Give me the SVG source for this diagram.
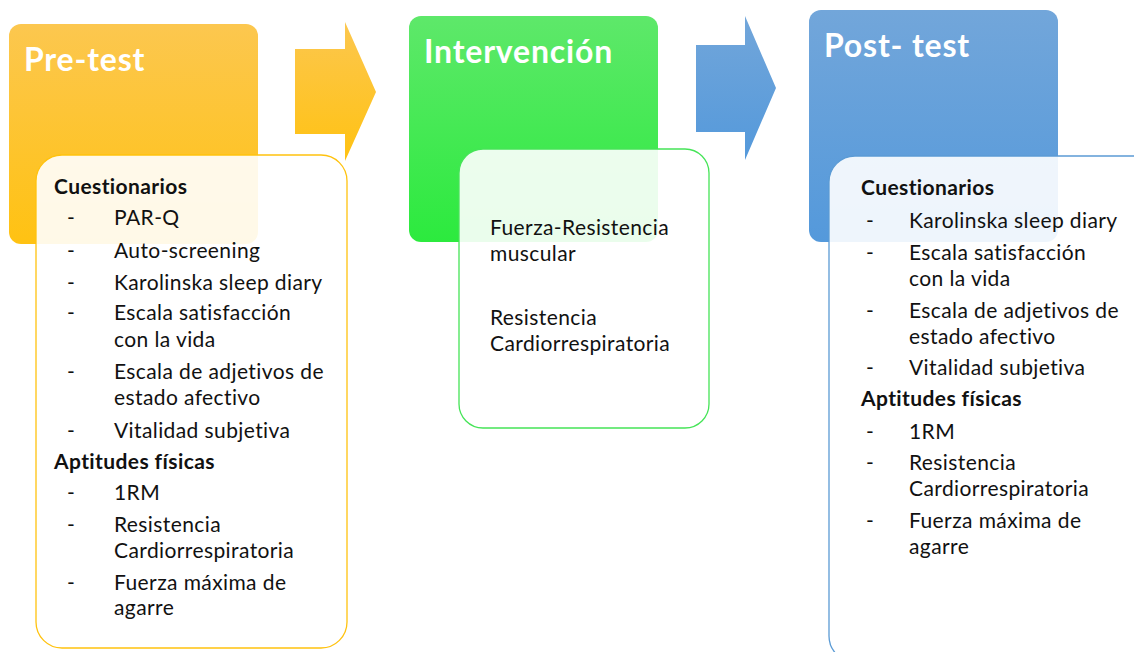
<svg xmlns="http://www.w3.org/2000/svg" width="1134" height="652" viewBox="0 0 1134 652">
<defs>
<linearGradient id="gO" x1="0" y1="0" x2="0" y2="1"><stop offset="0" stop-color="#FCC74F"/><stop offset="1" stop-color="#FFC212"/></linearGradient>
<linearGradient id="gG" x1="0" y1="0" x2="0" y2="1"><stop offset="0" stop-color="#5EE86A"/><stop offset="1" stop-color="#2CEA3E"/></linearGradient>
<linearGradient id="gB" x1="0" y1="0" x2="0" y2="1"><stop offset="0" stop-color="#72A6DA"/><stop offset="1" stop-color="#5499DB"/></linearGradient>
<style>
.hd{font-family:Lato,"Open Sans",sans-serif;font-weight:bold;font-size:32px;letter-spacing:0.8px;fill:#fff}
.t{font-family:Lato,"Open Sans",sans-serif;font-size:21px;letter-spacing:0.4px;fill:#111}
.b{font-weight:bold}
.det{fill:#fff;fill-opacity:0.9;stroke-width:1.3}
</style>
</defs>
<g id="pretest">
<rect x="9" y="24" width="249" height="220" rx="12" fill="url(#gO)"/>
<text class="hd" x="24" y="71">Pre-test</text>
</g>
<g id="intervencion">
<rect x="409" y="16" width="249" height="226" rx="12" fill="url(#gG)"/>
<text class="hd" x="424" y="63">Intervención</text>
</g>
<g id="posttest">
<rect x="809" y="10" width="249" height="232" rx="12" fill="url(#gB)"/>
<text class="hd" x="824" y="57">Post- test</text>
</g>
<g id="connectors">
<polygon points="295,49 345,49 345,22 376,92 345,161 345,134 295,134" fill="url(#gO)"/>
<polygon points="696,45 745,45 745,16 776,88 745,160 745,132 696,132" fill="url(#gB)"/>
</g>
<g id="pretest-detail">
<rect class="det" x="36" y="155" width="311" height="493" rx="26" stroke="#FFC20E"/>
<text class="t b" x="54" y="194">Cuestionarios</text>
<g class="t">
<text x="67" y="225">-</text><text x="114" y="225">PAR-Q</text>
<text x="67" y="258">-</text><text x="114" y="258">Auto-screening</text>
<text x="67" y="290">-</text><text x="114" y="290">Karolinska sleep diary</text>
<text x="67" y="320">-</text><text x="114" y="320">Escala satisfacción</text>
<text x="114" y="347">con la vida</text>
<text x="67" y="379">-</text><text x="114" y="379">Escala de adjetivos de</text>
<text x="114" y="405">estado afectivo</text>
<text x="67" y="438">-</text><text x="114" y="438">Vitalidad subjetiva</text>
<text x="54" y="469" font-weight="bold">Aptitudes físicas</text>
<text x="67" y="500">-</text><text x="114" y="500">1RM</text>
<text x="67" y="532">-</text><text x="114" y="532">Resistencia</text>
<text x="114" y="558">Cardiorrespiratoria</text>
<text x="67" y="590">-</text><text x="114" y="590">Fuerza máxima de</text>
<text x="114" y="615">agarre</text>
</g>
</g>
<g id="intervencion-detail">
<rect class="det" x="459" y="149" width="250" height="279" rx="24" stroke="#45E457"/>
<g class="t">
<text x="490" y="235">Fuerza-Resistencia</text>
<text x="490" y="261">muscular</text>
<text x="490" y="325">Resistencia</text>
<text x="490" y="351">Cardiorrespiratoria</text>
</g>
</g>
<g id="posttest-detail">
<rect class="det" x="829" y="156" width="330" height="506" rx="26" stroke="#5B9BD5"/>
<text class="t b" x="861" y="195">Cuestionarios</text>
<g class="t">
<text x="866" y="228">-</text><text x="909" y="228">Karolinska sleep diary</text>
<text x="866" y="260">-</text><text x="909" y="260">Escala satisfacción</text>
<text x="909" y="286">con la vida</text>
<text x="866" y="318">-</text><text x="909" y="318">Escala de adjetivos de</text>
<text x="909" y="344">estado afectivo</text>
<text x="866" y="375">-</text><text x="909" y="375">Vitalidad subjetiva</text>
<text x="861" y="406" font-weight="bold">Aptitudes físicas</text>
<text x="866" y="439">-</text><text x="909" y="439">1RM</text>
<text x="866" y="470">-</text><text x="909" y="470">Resistencia</text>
<text x="909" y="496">Cardiorrespiratoria</text>
<text x="866" y="528">-</text><text x="909" y="528">Fuerza máxima de</text>
<text x="909" y="554">agarre</text>
</g>
</g>
</svg>
